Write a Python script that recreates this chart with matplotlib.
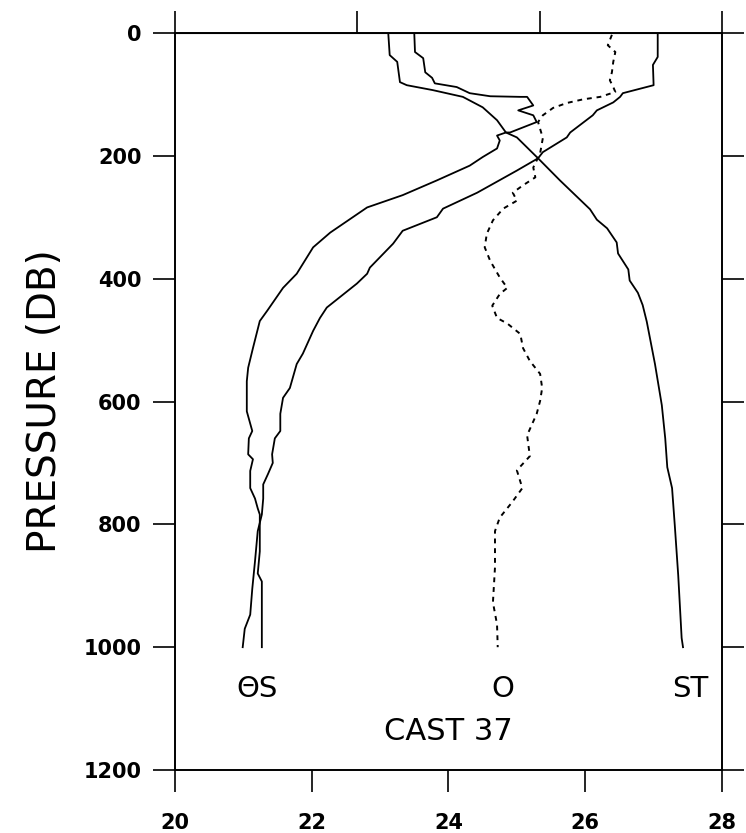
import numpy as np
import matplotlib.pyplot as plt

##########################################################
# profile values
# (pressure in DB, value on the shared 20-28 axis)
##########################################################
#
p_theta = [2, 39, 52, 85, 98, 104, 113, 126, 134, 162, 170, 194, 204, 224, 260, 286,
           300, 322, 343, 382, 392, 408, 447, 464, 485, 522, 539, 578, 594, 620, 648, 660,
           686, 700, 718, 735, 758, 784, 811, 860, 905, 947, 970, 1000]
theta = [27.06, 27.06, 26.99, 27.00, 26.55, 26.51, 26.41, 26.17, 26.11, 25.78, 25.73, 25.38, 25.31, 25.00, 24.42, 23.92,
         23.83, 23.33, 23.19, 22.85, 22.81, 22.66, 22.22, 22.12, 22.02, 21.87, 21.78, 21.68, 21.58, 21.54, 21.54, 21.46,
         21.42, 21.43, 21.36, 21.29, 21.29, 21.27, 21.21, 21.17, 21.13, 21.10, 21.02, 20.99]

p_salt = [2, 31, 41, 64, 73, 82, 88, 98, 103, 104, 104, 118, 126, 134, 145, 162,
          162, 167, 175, 188, 202, 216, 240, 264, 284, 325, 349, 392, 415, 452, 469, 513,
          545, 567, 616, 648, 660, 686, 694, 713, 741, 758, 774, 784, 811, 844, 880, 893,
          947, 1000]
salt = [23.50, 23.51, 23.63, 23.66, 23.76, 23.80, 24.12, 24.31, 24.61, 25.05, 25.15, 25.24, 25.02, 25.24, 25.29, 24.90,
        24.84, 24.71, 24.75, 24.71, 24.50, 24.31, 23.83, 23.33, 22.81, 22.27, 22.02, 21.78, 21.58, 21.35, 21.24, 21.14,
        21.07, 21.05, 21.05, 21.13, 21.08, 21.07, 21.14, 21.10, 21.10, 21.17, 21.21, 21.24, 21.24, 21.24, 21.21, 21.27,
        21.27, 21.27]

p_sigt = [2, 36, 47, 80, 85, 93, 104, 121, 142, 162, 170, 204, 240, 287, 304, 318,
          341, 359, 385, 403, 423, 443, 470, 539, 606, 660, 707, 741, 802, 883, 985, 1000]
sigt = [23.12, 23.14, 23.25, 23.29, 23.39, 23.77, 24.21, 24.50, 24.71, 24.84, 25.00, 25.31, 25.63, 26.07, 26.17, 26.32,
        26.46, 26.48, 26.63, 26.65, 26.77, 26.84, 26.90, 27.02, 27.12, 27.17, 27.20, 27.27, 27.31, 27.36, 27.41, 27.43]

p_oxy = [3, 20, 31, 47, 64, 77, 88, 96, 104, 108, 114, 122, 134, 145, 171, 196,
         219, 235, 248, 260, 273, 286, 305, 327, 349, 371, 398, 415, 425, 444, 464, 473,
         490, 513, 534, 555, 578, 599, 620, 655, 689, 712, 741, 764, 789, 811, 870, 927,
         963, 1000]
oxy = [26.39, 26.33, 26.44, 26.41, 26.39, 26.36, 26.41, 26.44, 26.22, 25.97, 25.73, 25.53, 25.38, 25.31, 25.38, 25.34,
       25.24, 25.27, 25.09, 24.94, 25.00, 24.80, 24.65, 24.56, 24.53, 24.61, 24.75, 24.86, 24.75, 24.64, 24.71, 24.86,
       25.05, 25.09, 25.19, 25.34, 25.37, 25.34, 25.29, 25.15, 25.19, 25.00, 25.08, 24.93, 24.75, 24.68, 24.68, 24.65,
       24.71, 24.72]

x_ticks = [20, 22, 24, 26, 28]
top_ticks = [20, 20 + 8 / 3, 20 + 16 / 3, 28]
p_ticks = [0, 200, 400, 600, 800, 1000, 1200]

##########################################################
# plotting
##########################################################
#
fig = plt.figure(figsize=(7.46, 8.33), dpi=100)
ax = fig.add_axes([0.2346, 0.0756, 0.7332, 0.8848])

ax.plot(theta, p_theta, color='k', lw=1.3)
ax.plot(salt, p_salt, color='k', lw=1.3)
ax.plot(sigt, p_sigt, color='k', lw=1.3)
ax.plot(oxy, p_oxy, color='k', lw=1.4, ls=(0, (2.5, 2.5)))

ax.set_xlim(20, 28)
ax.set_ylim(1200, 0)
ax.set_xticks(x_ticks, labels=[str(v) for v in x_ticks], fontsize=15, fontweight='bold')
ax.set_yticks(p_ticks, labels=[str(v) for v in p_ticks], fontsize=15, fontweight='bold')
ax.tick_params(axis='both', direction='out', length=16, width=1.2)
ax.tick_params(axis='y', right=True, pad=8)
ax.tick_params(axis='x', pad=15)
for s in ax.spines.values():
    s.set_linewidth(1.4)

# top axis carries its own ticks (thirds), no labels
top = ax.secondary_xaxis('top')
top.set_xticks(top_ticks, labels=['', '', '', ''])
top.tick_params(direction='out', length=16, width=1.2)

ax.set_ylabel('PRESSURE (DB)', fontsize=28, labelpad=14)

ax.text(21.2, 1068, '\u0398S', fontsize=21, ha='center', va='center')
ax.text(24.8, 1068, 'O', fontsize=21, ha='center', va='center')
ax.text(27.53, 1068, 'ST', fontsize=21, ha='center', va='center')
ax.text(24.0, 1138, 'CAST 37', fontsize=22, ha='center', va='center')

fig.savefig('out.png', dpi=100)
